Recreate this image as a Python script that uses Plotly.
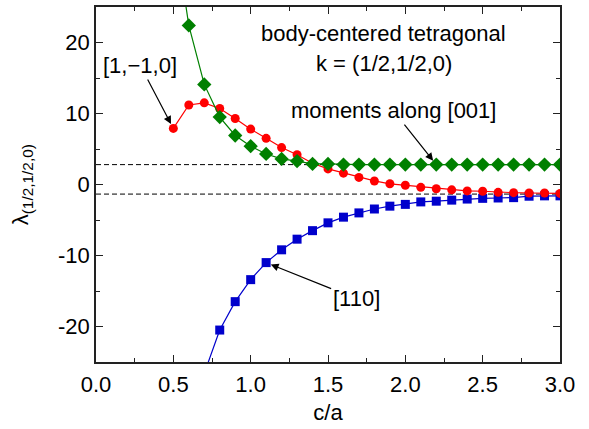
import plotly.graph_objects as go

# c/a ratios for each eigenvalue branch
ca_red = [0.5, 0.6, 0.7, 0.8, 0.9, 1.0, 1.1, 1.2, 1.3, 1.4, 1.5, 1.6, 1.7, 1.8, 1.9,
          2.0, 2.1, 2.2, 2.3, 2.4, 2.5, 2.6, 2.7, 2.8, 2.9, 3.0]
lam_red = [7.9, 11.2, 11.5, 10.7, 9.3, 7.8, 6.5, 5.2, 4.2, 3.0, 2.2, 1.6, 1.0, 0.5, 0.1,
           -0.1, -0.4, -0.6, -0.75, -0.9, -0.95, -1.1, -1.15, -1.2, -1.2, -1.25]

ca_green = [0.5, 0.6, 0.7, 0.8, 0.9, 1.0, 1.1, 1.2, 1.3, 1.4, 1.5, 1.6, 1.7, 1.8, 1.9,
            2.0, 2.1, 2.2, 2.3, 2.4, 2.5, 2.6, 2.7, 2.8, 2.9, 3.0]
lam_green = [37.0, 22.4, 14.1, 9.5, 6.9, 5.4, 4.3, 3.6, 3.3, 2.9, 2.9, 2.8, 2.8, 2.8, 2.8,
             2.8, 2.8, 2.8, 2.8, 2.8, 2.8, 2.8, 2.8, 2.8, 2.8, 2.8]

ca_blue = [0.6, 0.7, 0.8, 0.9, 1.0, 1.1, 1.2, 1.3, 1.4, 1.5, 1.6, 1.7, 1.8, 1.9,
           2.0, 2.1, 2.2, 2.3, 2.4, 2.5, 2.6, 2.7, 2.8, 2.9, 3.0]
lam_blue = [-36.0, -26.6, -20.5, -16.5, -13.4, -11.0, -9.2, -7.7, -6.5, -5.4, -4.6, -4.0,
            -3.45, -3.05, -2.8, -2.45, -2.35, -2.2, -2.05, -1.95, -1.9, -1.85, -1.65,
            -1.6, -1.6]

# asymptotic limits drawn as dashed guides
lam_limit_upper = 2.8
lam_limit_lower = -1.35

x_ticks = [0.0, 0.5, 1.0, 1.5, 2.0, 2.5, 3.0]
y_ticks = [-20, -10, 0, 10, 20]

FONT = "Liberation Sans, Arial, Helvetica, sans-serif"
FS = 22
GREEN = "#008000"
RED = "#ff0000"
BLUE = "#0000cc"
FRAME = "#222222"

fig = go.Figure()

fig.add_trace(go.Scatter(
    x=ca_blue, y=lam_blue, mode="lines+markers",
    line=dict(color=BLUE, width=1.2),
    marker=dict(symbol="square", size=9, color=BLUE),
    name="[110]"))
fig.add_trace(go.Scatter(
    x=ca_red, y=lam_red, mode="lines+markers",
    line=dict(color=RED, width=1.2),
    marker=dict(symbol="circle", size=9, color=RED),
    name="[1,-1,0]"))
fig.add_trace(go.Scatter(
    x=ca_green, y=lam_green, mode="lines+markers",
    line=dict(color=GREEN, width=1.2),
    marker=dict(symbol="diamond", size=11, color=GREEN),
    name="[001]"))

for yv in (lam_limit_upper, lam_limit_lower):
    fig.add_shape(type="line", xref="paper", yref="y", x0=0, x1=1, y0=yv, y1=yv,
                  line=dict(color="black", width=1, dash="5px,3px"), layer="below")

axis_common = dict(
    showline=True, linecolor=FRAME, linewidth=1.6, mirror="allticks",
    ticks="inside", ticklen=7, tickwidth=1.3, tickcolor=FRAME,
    showgrid=False, zeroline=False,
    tickfont=dict(family=FONT, size=FS, color="black"),
)

fig.update_xaxes(
    range=[0, 3], tickvals=x_ticks, ticktext=[f"{v:.1f}" for v in x_ticks],
    minor=dict(ticks="inside", dtick=0.25, ticklen=4, tickwidth=1.3, tickcolor=FRAME),
    ticklabelstandoff=2,
    title=dict(text="c/a", font=dict(family=FONT, size=FS, color="black"), standoff=8),
    **axis_common)
fig.update_yaxes(
    range=[-25, 25], tickvals=y_ticks, ticktext=[str(v) for v in y_ticks],
    minor=dict(ticks="inside", dtick=5, ticklen=4, tickwidth=1.3, tickcolor=FRAME),
    **axis_common)

ann_font = dict(family=FONT, size=FS, color="black")
arrow_style = dict(showarrow=True, arrowhead=2, arrowsize=1.3, arrowwidth=1.2,
                   standoff=5, arrowcolor="black")
annotations = [
    dict(x=0.62, y=0.925, xref="paper", yref="paper", text="body-centered tetragonal",
         showarrow=False, font=ann_font, xanchor="center", yanchor="middle"),
    dict(x=0.62, y=0.84, xref="paper", yref="paper", text="k = (1/2,1/2,0)",
         showarrow=False, font=ann_font, xanchor="center", yanchor="middle"),
    # y-axis title with subscript
    dict(x=-0.16, y=0.5, xref="paper", yref="paper",
         text="λ<sub>(1/2,1/2,0)</sub>", textangle=-90, showarrow=False,
         font=dict(family=FONT, size=FS, color="black"),
         xanchor="center", yanchor="middle"),
    # pointer labels
    dict(x=ca_red[0], y=lam_red[0], xref="x", yref="y", text="[1,−1,0]",
         ax=-33, ay=-63, font=ann_font, **arrow_style),
    dict(x=2.2, y=lam_green[17], xref="x", yref="y", text="moments along [001]",
         ax=-43, ay=-54, font=ann_font, **arrow_style),
    dict(x=1.1, y=lam_blue[5], xref="x", yref="y", text="[110]",
         ax=90, ay=36, font=ann_font, **arrow_style),
]
fig.update_layout(
    width=589, height=429,
    margin=dict(l=96, r=29, t=5, b=67),
    paper_bgcolor="white", plot_bgcolor="white",
    showlegend=False,
    annotations=annotations,
    font=dict(family=FONT),
)

fig.write_html("out.html")
